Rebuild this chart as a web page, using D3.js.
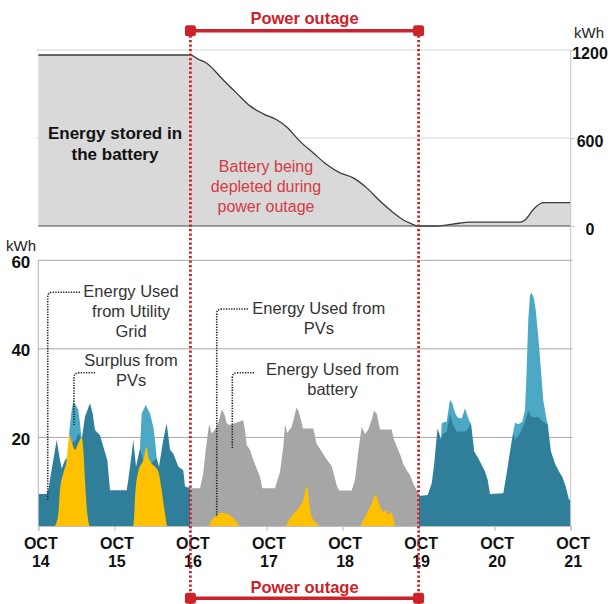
<!DOCTYPE html>
<html><head><meta charset="utf-8">
<script src="https://cdn.jsdelivr.net/npm/d3@7/dist/d3.min.js"></script>
<style>
html,body{margin:0;padding:0;background:#fff;}
svg{display:block;font-family:"Liberation Sans",Arial,sans-serif;}
</style></head>
<body>
<svg id="chart" width="612" height="604"></svg>
<script>
// ---------- DATA (x = days since Oct 14) ----------
const tickDays = [0,1,2,3,4,5,6,7];
const tickMonth = "OCT";
const tickDayLabels = ["14","15","16","17","18","19","20","21"];
const topTicks = [0,600,1200];
const bottomTicks = [20,40,60];
const outageStart = 2, outageEnd = 5;

// Energy stored in battery (kWh)
const batteryStored = [[0,1166],[2.0,1166],[2.104,1137],[2.214,1110],[2.432,996],[2.608,906],[2.783,819],[2.958,765],[3.134,724],[3.266,675],[3.441,577],[3.616,498],[3.792,419],[3.967,362],[4.141,328],[4.318,260],[4.493,170],[4.667,91],[4.799,41],[4.930,10],[4.975,0],[5.238,0],[5.452,13],[5.676,27],[6.333,27],[6.399,41],[6.508,113],[6.639,159],[7,159]];

// Energy used from utility grid (kWh) - before and after outage
const gridBefore = [[0,7.2],[0.110,7.2],[0.131,8.1],[0.197,14.9],[0.242,19.4],[0.285,14.9],[0.308,13],[0.351,14.9],[0.394,15.5],[0.408,17],[0.460,19],[0.483,19],[0.526,21],[0.571,19.5],[0.614,24.7],[0.680,27.7],[0.715,25.4],[0.745,21.7],[0.811,20.5],[0.855,17.9],[0.907,14.9],[0.943,8.1],[1.162,8.1],[1.183,10.4],[1.228,16.4],[1.249,19.4],[1.285,13.4],[1.337,17.5],[1.380,15],[1.469,14],[1.557,15.3],[1.587,13.4],[1.643,19.4],[1.688,23.2],[1.732,17.2],[1.775,16.4],[1.841,13.4],[1.906,12.6],[1.929,8.9],[2.0,8.6]];
const gridAfter = [[5.0,6.8],[5.120,7],[5.172,9.6],[5.206,14.1],[5.238,20.2],[5.251,22],[5.294,19.6],[5.325,20.9],[5.369,21.3],[5.413,25.4],[5.443,23.2],[5.469,22.4],[5.501,21.3],[5.632,21.4],[5.689,23.2],[5.732,16.8],[5.785,15.3],[5.830,13.8],[5.873,12.3],[5.909,10.4],[5.939,7.2],[6.114,7.4],[6.158,11.9],[6.202,16.8],[6.245,21.3],[6.268,19.4],[6.333,20.9],[6.399,23.5],[6.442,26],[6.478,24.7],[6.530,24.5],[6.566,24.7],[6.616,23.9],[6.697,22.8],[6.741,16.8],[6.793,14.1],[6.846,12.3],[6.889,11.1],[6.934,8.9],[6.977,6],[7.0,5.9]];

// Surplus from PVs (kWh), null = not shown
const pvSurplus = [[0.394,15.5],[0.408,21.5],[0.439,26.2],[0.460,28],[0.492,27.3],[0.526,26.2],[0.548,23.2],[0.571,19.5],[0.6,null],
  [1.337,17.5],[1.359,25.4],[1.412,27.3],[1.469,25.4],[1.512,22.4],[1.534,19.4],[1.557,15.3],[1.6,null],
  [5.294,19.6],[5.304,23.2],[5.338,23.5],[5.369,23.5],[5.413,28.5],[5.443,27.7],[5.479,25.5],[5.514,24.5],[5.567,24.3],[5.610,26.6],[5.646,24.7],[5.676,23.3],[5.689,23.2],[5.7,null],
  [6.245,21.3],[6.268,23.3],[6.311,23],[6.363,23.5],[6.399,26.2],[6.421,35.2],[6.442,46.5],[6.465,52.1],[6.487,52.7],[6.517,51.4],[6.540,48.8],[6.574,42.7],[6.609,35.2],[6.639,28.4],[6.684,23.9],[6.705,22.8]];

// Energy used from battery during outage (kWh)
const batteryUse = [[2.0,8.5],[2.126,8.5],[2.169,11.9],[2.201,17.2],[2.235,21.7],[2.248,23],[2.280,20.9],[2.323,21.8],[2.367,23.2],[2.411,26.3],[2.445,25.4],[2.477,23.2],[2.511,22.8],[2.586,23.2],[2.630,23.5],[2.695,23.9],[2.717,21.6],[2.740,18.3],[2.783,17.2],[2.827,14.9],[2.871,13],[2.915,11.1],[2.945,8.5],[3.112,8.5],[3.178,12.2],[3.221,17.9],[3.244,23],[3.274,21],[3.332,22.4],[3.397,26.8],[3.432,25.4],[3.480,22],[3.616,22],[3.660,18.5],[3.726,16.8],[3.792,15],[3.858,13.5],[3.888,11.5],[3.927,9],[3.957,8],[4.120,8],[4.164,10.4],[4.207,16.8],[4.252,22.4],[4.296,20.7],[4.339,21.8],[4.383,24],[4.414,26],[4.449,25.4],[4.493,21.8],[4.646,21.8],[4.677,19.4],[4.756,16.2],[4.799,14],[4.844,12.6],[4.887,11.5],[4.930,9.6],[4.975,8.1],[5.0,8]];

// Energy used from PVs (kWh)
const pvUsed = [[0.220,0],[0.263,2.8],[0.285,8.1],[0.329,11.9],[0.373,14.9],[0.408,20.5],[0.439,19],[0.483,17.2],[0.526,18.7],[0.571,20],[0.592,17.2],[0.614,10.4],[0.644,2.8],[0.680,0],
  [1.249,0],[1.278,8.1],[1.315,12.3],[1.380,14.9],[1.425,17.9],[1.446,15.6],[1.491,14.1],[1.534,13.4],[1.578,12.3],[1.622,8.1],[1.666,2.8],[1.696,0],
  [2.235,0],[2.280,1.3],[2.346,2.5],[2.411,3],[2.477,2.8],[2.543,2.1],[2.608,0.9],[2.652,0],
  [3.244,0],[3.309,1.7],[3.375,3.2],[3.441,4.4],[3.484,5.9],[3.520,8.5],[3.537,8.8],[3.563,5.1],[3.595,2.1],[3.660,0.6],[3.694,0],
  [4.230,0],[4.273,1.3],[4.318,2.8],[4.383,5.1],[4.427,7],[4.457,6.2],[4.493,4.4],[4.536,3.2],[4.571,3.6],[4.602,2.5],[4.633,3.2],[4.667,1.7],[4.690,0]];

// ---------- LAYOUT ----------
const svg = d3.select("#chart");
const X0 = 38.3, X1 = 570.7;
const x = d3.scaleLinear().domain([0,7]).range([X0, X1]);
const yTop = d3.scaleLinear().domain([0,1200]).range([226, 50]);
const yBot = d3.scaleLinear().domain([0,60]).range([526, 260.3]);

const C = {dark:"#2f7f9a", light:"#4ba9c5", yellow:"#ffc000", gray:"#a6a6a6", topFill:"#d9d9d9", red:"#cc2229"};

// ---------- TOP PANEL ----------
const gTop = svg.append("g");
gTop.selectAll("line.grid").data(topTicks.filter(d=>d>0)).join("line")
  .attr("x1", X0-2).attr("x2", X1).attr("y1", d=>yTop(d)).attr("y2", d=>yTop(d))
  .attr("stroke", "#d4d4d4").attr("stroke-width", 1);
gTop.append("path").datum(batteryStored)
  .attr("d", d3.area().x(d=>x(d[0])).y0(yTop(0)).y1(d=>yTop(d[1])).curve(d3.curveMonotoneX))
  .attr("fill", C.topFill);
gTop.append("path").datum(batteryStored)
  .attr("d", d3.line().x(d=>x(d[0])).y(d=>yTop(d[1])).curve(d3.curveMonotoneX))
  .attr("fill", "none").attr("stroke", "#3a3a3a").attr("stroke-width", 1.3);
gTop.append("line").attr("x1", X0).attr("x2", X1).attr("y1", yTop(0)).attr("y2", yTop(0))
  .attr("stroke", "#4a4a4a").attr("stroke-width", 1.2);

const axTop = gTop.append("g").attr("transform", `translate(${X1},0)`)
  .call(d3.axisRight(yTop).tickValues(topTicks).tickSize(4).tickFormat(d3.format("d")));
axTop.select(".domain").remove();
axTop.selectAll(".tick line").attr("stroke", "#c8c8c8");
axTop.selectAll(".tick text").attr("x", 590 - X1).attr("text-anchor", "middle")
  .attr("dy", "0.55em").attr("font-size", 16).attr("font-weight", "bold").attr("fill", "#111");
gTop.append("text").attr("x", 589).attr("y", 38).attr("text-anchor", "middle")
  .attr("font-size", 15).attr("fill", "#222").text("kWh");

gTop.append("text").attr("x", 115).attr("text-anchor", "middle").attr("font-size", 17)
  .attr("font-weight", "bold").attr("fill", "#111")
  .selectAll("tspan").data(["Energy stored in", "the battery"]).join("tspan")
  .attr("x", 115).attr("y", (d,i)=>139 + i*21).text(d=>d);
gTop.append("text").attr("text-anchor", "middle").attr("font-size", 16).attr("fill", "#d63a45")
  .selectAll("tspan").data(["Battery being", "depleted during", "power outage"]).join("tspan")
  .attr("x", 266).attr("y", (d,i)=>171.5 + i*20.3).text(d=>d);

// ---------- BOTTOM PANEL ----------
const gBot = svg.append("g");
gBot.selectAll("line.grid").data(bottomTicks).join("line")
  .attr("x1", X0).attr("x2", X1+2).attr("y1", d=>yBot(d)).attr("y2", d=>yBot(d))
  .attr("stroke", "#a8a8a8").attr("stroke-width", 1);

const area = d3.area().defined(d=>d[1]!==null).x(d=>x(d[0])).y0(yBot(0)).y1(d=>yBot(d[1]));
gBot.append("path").datum(pvSurplus).attr("d", area).attr("fill", C.light);
gBot.append("path").datum(gridBefore).attr("d", area).attr("fill", C.dark);
gBot.append("path").datum(gridAfter).attr("d", area).attr("fill", C.dark);
gBot.append("path").datum(batteryUse).attr("d", area).attr("fill", C.gray);
gBot.append("path").datum(pvUsed).attr("d", area.curve(d3.curveMonotoneX)).attr("fill", C.yellow);

// axes lines
svg.append("line").attr("x1", X0).attr("x2", X0).attr("y1", yBot(60)).attr("y2", yBot(0))
  .attr("stroke", "#b5b5b5");
svg.append("line").attr("x1", X1).attr("x2", X1).attr("y1", yTop(1200)).attr("y2", yBot(0))
  .attr("stroke", "#c4c4c4");

const axL = gBot.append("g").attr("transform", `translate(${X0},0)`)
  .call(d3.axisLeft(yBot).tickValues(bottomTicks).tickSize(0).tickFormat(d3.format("d")));
axL.select(".domain").remove();
axL.selectAll(".tick text").attr("x", -8).attr("dy", "0.4em").attr("font-size", 17)
  .attr("font-weight", "bold").attr("fill", "#111");
gBot.append("text").attr("x", 21).attr("y", 251).attr("text-anchor", "middle")
  .attr("font-size", 15).attr("fill", "#222").text("kWh");

const axB = gBot.append("g").attr("transform", `translate(0,${yBot(0)})`)
  .call(d3.axisBottom(x).tickValues(tickDays).tickSize(5).tickFormat(""));
axB.select(".domain").attr("stroke", "#bdbdbd");
axB.selectAll(".tick line").attr("stroke", "#bdbdbd");
axB.selectAll(".tick").each(function(d,i){
  const t = d3.select(this);
  t.append("text").attr("x", 2).attr("y", 22.5)
    .attr("text-anchor", "middle").attr("font-size", 16).attr("font-weight", "bold")
    .attr("fill", "#111").attr("font-family", "'Liberation Sans',Arial,sans-serif").text(tickMonth);
  t.append("text").attr("x", 2).attr("y", 40.5)
    .attr("text-anchor", "middle").attr("font-size", 16).attr("font-weight", "bold")
    .attr("fill", "#111").attr("font-family", "'Liberation Sans',Arial,sans-serif").text(tickDayLabels[i]);
});

// ---------- ANNOTATIONS (positions in data units) ----------
const notes = [
  {lines:["Energy Used","from Utility","Grid"], tx:1.219, ty:53.1, sx:0.548, sy:52.8, cx:0.124, ey:5.9},
  {lines:["Surplus from","PVs"], tx:1.219, ty:37.5, sx:0.746, sy:34.6, cx:0.469, ey:22.8},
  {lines:["Energy Used from","PVs"], tx:3.688, ty:49.3, sx:2.757, sy:49.0, cx:2.346, ey:2.1},
  {lines:["Energy Used from","battery"], tx:3.868, ty:35.4, sx:2.836, sy:34.6, cx:2.551, ey:17.6}
];
notes.forEach(n=>{
  const sx=x(n.sx), sy=yBot(n.sy), cx=x(n.cx), ey=yBot(n.ey), r=5;
  svg.append("path").attr("d", `M${sx},${sy}H${cx+r}Q${cx},${sy} ${cx},${sy+r}V${ey}`)
    .attr("fill","none").attr("stroke","#222").attr("stroke-width",1.6).attr("stroke-dasharray","1.3,1.3");
  svg.append("text").attr("text-anchor","middle").attr("font-size",16.5).attr("fill","#333")
    .selectAll("tspan").data(n.lines).join("tspan")
    .attr("x", x(n.tx)).attr("y", (d,i)=>yBot(n.ty) + 6 + i*20).text(d=>d);
});

// ---------- OUTAGE MARKERS ----------
const gO = svg.append("g");
[outageStart, outageEnd].forEach(d=>{
  gO.append("line").attr("x1", x(d)).attr("x2", x(d)).attr("y1", 31).attr("y2", 604)
    .attr("stroke", C.red).attr("stroke-width", 2.8).attr("stroke-dasharray", "2.3,2.2");
});
[30.7, 598.3].forEach(yy=>{
  gO.append("line").attr("x1", x(outageStart)).attr("x2", x(outageEnd)).attr("y1", yy).attr("y2", yy)
    .attr("stroke", C.red).attr("stroke-width", 3.5);
  [outageStart, outageEnd].forEach(d=>{
    gO.append("rect").attr("x", x(d)-5.5).attr("y", yy-5.5).attr("width", 11).attr("height", 11)
      .attr("rx", 2.5).attr("fill", C.red);
  });
});
[{y:23.5},{y:592.5}].forEach(o=>{
  gO.append("text").attr("x", (x(outageStart)+x(outageEnd))/2).attr("y", o.y)
    .attr("text-anchor","middle").attr("font-size",16.5).attr("font-weight","bold")
    .attr("fill", C.red).text("Power outage");
});
</script>
</body></html>
